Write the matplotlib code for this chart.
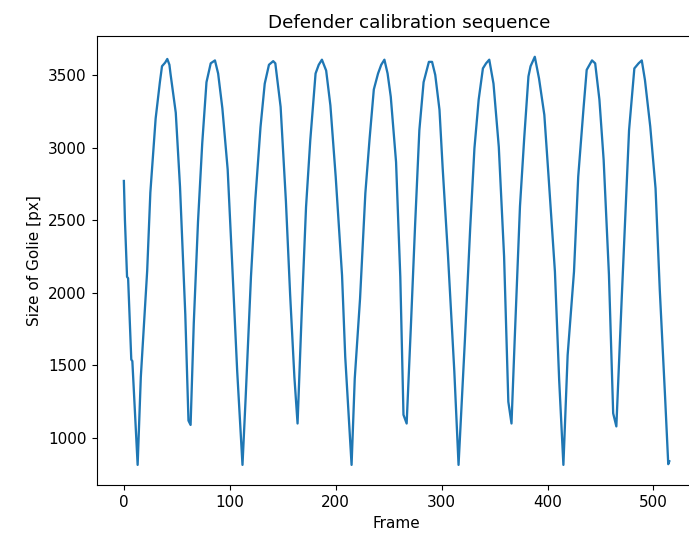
import matplotlib
matplotlib.use("Agg")
import matplotlib.pyplot as plt

# frame index and goalie size
frames = [0, 1, 3, 4, 7, 8, 13, 16, 22, 25, 30, 34, 36, 39, 41, 43, 44, 49, 53, 58,
          61, 63, 66, 70, 74, 78, 82, 86, 89, 93, 98, 102, 107, 112, 115, 120, 124,
          129, 133, 137, 141, 143, 148, 153, 157, 161, 164, 168, 172, 176, 181, 184,
          187, 191, 195, 200, 204, 206, 209, 215, 218, 223, 228, 232, 236, 240, 243,
          246, 249, 252, 257, 261, 264, 267, 271, 275, 279, 283, 288, 291, 294, 298,
          301, 306, 312, 316, 322, 327, 331, 335, 339, 342, 345, 349, 354, 359, 363,
          366, 369, 374, 378, 382, 384, 388, 392, 397, 401, 407, 411, 415, 419, 425,
          429, 434, 437, 442, 445, 449, 453, 458, 462, 465, 470, 477, 482, 486, 489,
          492, 497, 502, 506, 511, 514, 515]
golie_size = [2770, 2500, 2110, 2100, 1540, 1530, 815, 1420, 2150, 2690, 3200, 3450,
              3560, 3585, 3610, 3570, 3510, 3240, 2730, 1850, 1120, 1090, 1790, 2490,
              3030, 3450, 3580, 3600, 3510, 3270, 2850, 2240, 1460, 815, 1280, 2110,
              2630, 3140, 3440, 3570, 3595, 3580, 3280, 2630, 1985, 1420, 1100, 1880,
              2590, 3050, 3510, 3570, 3605, 3530, 3290, 2800, 2350, 2120, 1560, 815,
              1410, 1960, 2685, 3060, 3400, 3510, 3570, 3605, 3510, 3350, 2900, 2110,
              1160, 1100, 1770, 2470, 3120, 3450, 3590, 3590, 3500, 3260, 2860, 2260,
              1460, 815, 1675, 2445, 2995, 3330, 3545, 3580, 3605, 3440, 3005, 2250,
              1250, 1100, 1675, 2595, 3065, 3490, 3560, 3625, 3475, 3225, 2800, 2145,
              1400, 815, 1570, 2145, 2800, 3270, 3535, 3600, 3580, 3330, 2915, 2125,
              1170, 1080, 1950, 3120, 3545, 3580, 3600, 3465, 3145, 2720, 2020, 1285,
              820, 840]

fig = plt.figure(figsize=(6.89, 5.35), dpi=100)
ax = fig.add_axes([0.1402, 0.0929, 0.8708, 0.8391])

ax.plot(frames, golie_size, color='#1f77b4', linewidth=1.65)

ax.set_title('Defender calibration sequence', fontsize=13.2, x=0.521)
ax.set_xlabel('Frame', fontsize=11)
ax.set_ylabel('Size of Golie [px]', fontsize=11)
ax.tick_params(labelsize=11, length=3.8)
ax.set_xticks([0, 100, 200, 300, 400, 500])
ax.set_yticks([1000, 1500, 2000, 2500, 3000, 3500])

fig.savefig('out.png', dpi=100)
